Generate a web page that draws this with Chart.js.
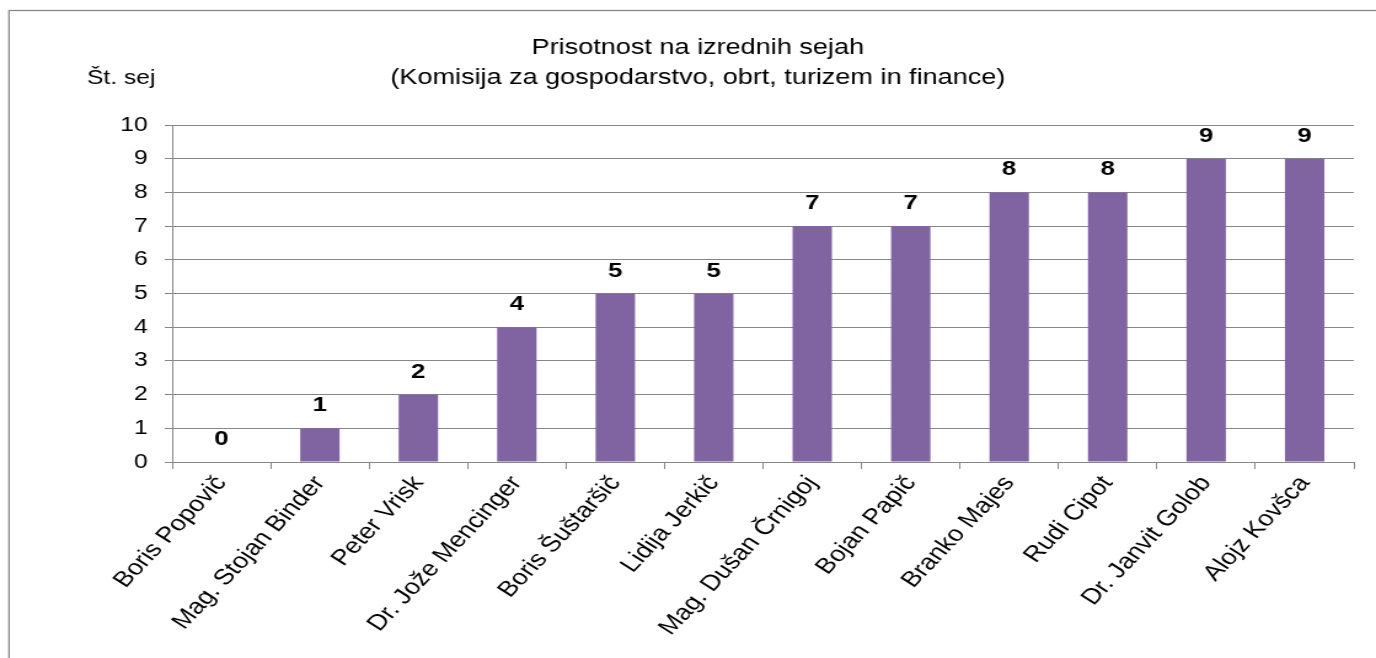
<!DOCTYPE html>
<html>
<head>
<meta charset="utf-8">
<script src="https://cdn.jsdelivr.net/npm/chart.js@4.4.1/dist/chart.umd.min.js"></script>
<style>
  html, body { margin: 0; padding: 0; background: #ffffff; overflow: hidden; }
  #wrap { width: 1376px; height: 658px; position: relative; overflow: hidden; }
  #c { position: absolute; left: 0; top: 0; transform-origin: 0 0; }
</style>
</head>
<body>
<div id="wrap"><canvas id="c"></canvas></div>
<script>
const categories = [
  "Boris Popovič", "Mag. Stojan Binder", "Peter Vrisk", "Dr. Jože Mencinger",
  "Boris Šuštaršič", "Lidija Jerkič", "Mag. Dušan Črnigoj", "Bojan Papič",
  "Branko Majes", "Rudi Cipot", "Dr. Janvit Golob", "Alojz Kovšca"
];
const attendance = [0, 1, 2, 4, 5, 5, 7, 7, 8, 8, 9, 9];
const yTicks = [0, 1, 2, 3, 4, 5, 6, 7, 8, 9, 10];
const titleLines = ["Prisotnost na izrednih sejah", "(Komisija za gospodarstvo, obrt, turizem in finance)"];
const yAxisLabel = "Št. sej";

const FONT = "'Liberation Sans', Arial, sans-serif";
const GRID = "#878787";

// The reference picture is horizontally widened; draw narrower and widen it.
const PAGE_W = 1376, PAGE_H = 658;
const SX = 1.23;
const CW = Math.round(PAGE_W / SX);
const sx = PAGE_W / CW;

const canvas = document.getElementById('c');
canvas.width = CW;
canvas.height = PAGE_H;
canvas.style.transform = 'scaleX(' + sx + ')';

const PAD_L = Math.round(42 / sx);
const PAD_R = CW - Math.round(1354 / sx);
const AXIS_L = Math.round(172 / sx);

const frameAndLabels = {
  id: 'frameAndLabels',
  beforeDraw(chart) {
    const ctx = chart.ctx;
    ctx.save();
    ctx.fillStyle = '#ffffff';
    ctx.fillRect(0, 0, chart.width, chart.height);
    ctx.strokeStyle = '#898989';
    ctx.lineWidth = 1.3;
    ctx.strokeRect(9 / sx, 10.5, chart.width + 20, chart.height + 20);
    ctx.restore();
  },
  afterDraw(chart) {
    const ctx = chart.ctx;
    ctx.save();
    ctx.fillStyle = '#000000';
    ctx.font = "20px " + FONT;
    ctx.textAlign = 'left';
    ctx.textBaseline = 'middle';
    ctx.fillText(yAxisLabel, 87 / sx, 78);
    ctx.restore();
  },
  afterDatasetsDraw(chart) {
    const ctx = chart.ctx;
    const meta = chart.getDatasetMeta(0);
    const data = chart.data.datasets[0].data;
    ctx.save();
    ctx.fillStyle = '#000000';
    ctx.font = "bold 21px " + FONT;
    ctx.textAlign = 'center';
    ctx.textBaseline = 'alphabetic';
    meta.data.forEach((bar, i) => {
      ctx.fillText(String(data[i]), bar.x, bar.y - 17);
    });
    ctx.restore();
  }
};

new Chart(canvas, {
  type: 'bar',
  data: {
    labels: categories,
    datasets: [{
      data: attendance,
      backgroundColor: '#8064A2',
      borderWidth: 0,
      categoryPercentage: 1.0,
      barPercentage: 0.4
    }]
  },
  options: {
    responsive: false,
    animation: false,
    devicePixelRatio: 1,
    layout: { padding: { left: PAD_L, right: PAD_R, top: 0, bottom: 0 } },
    plugins: {
      legend: { display: false },
      tooltip: { enabled: false },
      title: {
        display: true,
        text: titleLines,
        color: '#000000',
        font: { family: FONT, size: 22, weight: 'normal', lineHeight: 30 / 22 },
        padding: { top: 33, bottom: 32 }
      }
    },
    scales: {
      x: {
        offset: true,
        grid: {
          display: true,
          drawOnChartArea: false,
          drawTicks: true,
          tickLength: 7,
          color: GRID,
          offset: true
        },
        border: { display: true, color: GRID, width: 1 },
        ticks: {
          color: '#000000',
          font: { family: FONT, size: 22 },
          minRotation: 52,
          maxRotation: 52,
          autoSkip: false,
          padding: 2
        },
        afterFit(scale) { scale.height = PAGE_H - 462; }
      },
      y: {
        min: 0,
        max: 10,
        afterBuildTicks(scale) { scale.ticks = yTicks.map(v => ({ value: v })); },
        grid: {
          display: true,
          drawOnChartArea: true,
          drawTicks: true,
          tickLength: 6,
          color: GRID,
          lineWidth: 1
        },
        border: { display: true, color: GRID, width: 1 },
        ticks: {
          color: '#000000',
          font: { family: FONT, size: 20 },
          padding: 14
        },
        afterFit(scale) { scale.width = AXIS_L - PAD_L; }
      }
    }
  },
  plugins: [frameAndLabels]
});
</script>
</body>
</html>
